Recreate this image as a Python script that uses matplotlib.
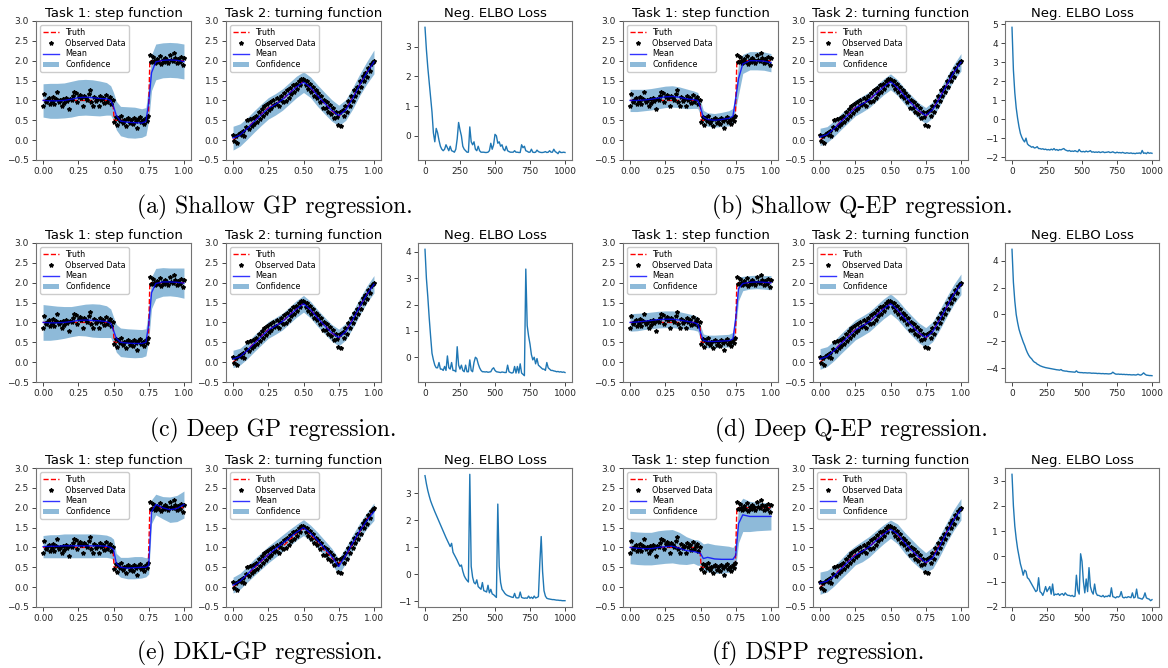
import numpy as np
import matplotlib.pyplot as plt

# ---------------- data ----------------
# observed points (same for every method), x = 100 points on [0, 1]
obs_x = np.linspace(0, 1, 100)
step_obs = [0.87, 1.15, 0.97, 1.02, 1.05, 0.92, 0.98, 1.08, 0.90, 1.03,
            1.22, 0.95, 1.00, 0.85, 1.04, 0.93, 1.06, 0.99, 0.78, 1.03,
            1.00, 1.12, 1.20, 1.18, 0.96, 1.08, 1.14, 1.05, 0.87, 1.10,
            1.06, 1.02, 1.15, 1.27, 0.97, 0.85, 1.08, 0.99, 1.04, 0.86,
            1.11, 1.00, 1.06, 0.93, 1.13, 0.97, 1.04, 1.08, 0.92, 1.02,
            0.45, 0.58, 0.38, 0.55, 0.47, 0.60, 0.42, 0.50, 0.36, 0.53,
            0.57, 0.44, 0.50, 0.40, 0.55, 0.48, 0.31, 0.52, 0.58, 0.45,
            0.50, 0.40, 0.55, 0.47, 0.60,
            2.15, 1.97, 2.10, 2.00, 1.95, 2.05, 1.98, 2.12, 1.92, 2.03,
            1.96, 2.08, 2.01, 1.94, 2.15, 2.02, 1.99, 2.20, 2.06, 1.93,
            2.04, 1.98, 2.10, 1.90, 2.08]
turn_obs = [0.13, -0.03, 0.10, -0.07, 0.15, 0.17, 0.12, 0.22, 0.10, 0.33,
            0.50, 0.28, 0.52, 0.35, 0.55, 0.40, 0.62, 0.45, 0.70, 0.52,
            0.78, 0.60, 0.85, 0.68, 0.90, 0.75, 0.95, 0.80, 1.00, 0.88,
            0.90, 1.05, 0.85, 1.00, 1.12, 0.95, 1.18, 0.98, 1.25, 1.05,
            1.32, 1.15, 1.38, 1.20, 1.42, 1.30, 1.50, 1.38, 1.53, 1.55,
            1.52, 1.40, 1.50, 1.30, 1.42, 1.20, 1.35, 1.10, 1.25, 1.05,
            1.18, 0.95, 1.10, 0.82, 1.02, 0.80, 0.95, 0.70, 0.88, 0.65,
            0.80, 0.55, 0.70, 0.58, 0.38, 0.72, 0.35, 0.75, 0.62, 0.85,
            0.70, 0.98, 0.85, 1.12, 0.98, 1.25, 1.10, 1.35, 1.22, 1.50,
            1.35, 1.62, 1.48, 1.70, 1.60, 1.82, 1.75, 1.92, 1.98, 1.99]

# ground truth
step_true_x = [0, 0.495, 0.505, 0.747, 0.758, 1.0]
step_true_y = [1.0, 1.0, 0.5, 0.5, 2.0, 2.0]
turn_grid = np.linspace(0, 1, 21)
turn_true = [0.00, 0.12, 0.30, 0.48, 0.65, 0.82, 0.92, 1.02, 1.18, 1.35, 1.48,
             1.32, 1.10, 0.92, 0.74, 0.60, 0.78, 1.08, 1.40, 1.72, 1.98]

# predictive mean and half-width of the confidence band
step_grid = [0, .05, .1, .15, .2, .25, .3, .35, .4, .45, .48, .5, .52, .55,
             .6, .65, .7, .73, .75, .77, .8, .85, .9, .95, 1.0]

step_mean_a = [1.00, 0.99, 0.99, 1.00, 1.03, 1.07, 1.08, 1.07, 1.05, 1.04, 1.00, 0.85, 0.62,
               0.48, 0.45, 0.44, 0.43, 0.47, 0.95, 1.70, 1.97, 2.01, 2.02, 2.01, 1.98]
step_half_a = [0.42, 0.44, 0.44, 0.44, 0.45, 0.45, 0.45, 0.45, 0.44, 0.41, 0.37, 0.35, 0.36,
               0.37, 0.39, 0.39, 0.36, 0.35, 0.45, 0.45, 0.45, 0.44, 0.44, 0.44, 0.44]
step_mean_b = [1.00, 1.00, 1.01, 1.03, 1.06, 1.09, 1.10, 1.08, 1.04, 1.02, 1.00, 0.82, 0.58,
               0.52, 0.50, 0.52, 0.55, 0.60, 1.05, 1.55, 1.92, 2.00, 2.00, 1.99, 1.95]
step_half_b = [0.28, 0.28, 0.27, 0.27, 0.27, 0.27, 0.27, 0.26, 0.25, 0.22, 0.20, 0.18, 0.17,
               0.17, 0.17, 0.18, 0.19, 0.20, 0.25, 0.40, 0.24, 0.23, 0.23, 0.23, 0.23]
step_mean_c = [1.00, 0.99, 0.99, 1.00, 1.02, 1.05, 1.06, 1.05, 1.04, 1.02, 0.98, 0.80, 0.60,
               0.50, 0.48, 0.47, 0.47, 0.50, 0.95, 1.75, 1.98, 2.02, 2.02, 2.01, 1.99]
step_half_c = [0.45, 0.44, 0.42, 0.40, 0.38, 0.38, 0.40, 0.42, 0.42, 0.40, 0.36, 0.34, 0.35,
               0.36, 0.36, 0.36, 0.35, 0.34, 0.40, 0.40, 0.38, 0.36, 0.35, 0.36, 0.38]
step_mean_d = [1.00, 1.01, 1.03, 1.05, 1.07, 1.08, 1.08, 1.06, 1.03, 1.00, 0.96, 0.75, 0.55,
               0.52, 0.52, 0.53, 0.54, 0.58, 1.10, 1.85, 1.98, 2.01, 2.02, 2.01, 2.00]
step_half_d = [0.22, 0.22, 0.21, 0.21, 0.21, 0.21, 0.21, 0.21, 0.20, 0.19, 0.18, 0.17, 0.16,
               0.16, 0.16, 0.16, 0.16, 0.17, 0.25, 0.30, 0.18, 0.17, 0.17, 0.17, 0.18]
step_mean_e = [1.02, 1.03, 1.03, 1.04, 1.04, 1.04, 1.04, 1.04, 1.04, 1.03, 1.00, 0.95, 0.60,
               0.50, 0.48, 0.49, 0.50, 0.50, 0.55, 1.90, 2.08, 2.00, 1.95, 1.98, 2.08]
step_half_e = [0.28, 0.29, 0.29, 0.30, 0.30, 0.30, 0.30, 0.30, 0.29, 0.28, 0.27, 0.26, 0.25,
               0.25, 0.27, 0.28, 0.27, 0.24, 0.22, 0.30, 0.26, 0.28, 0.32, 0.33, 0.34]
step_mean_f = [1.00, 0.98, 0.97, 0.97, 1.00, 1.02, 1.03, 0.98, 0.92, 0.90, 0.87, 0.85, 0.72,
               0.75, 0.71, 0.70, 0.70, 0.70, 0.80, 1.60, 1.82, 1.78, 1.78, 1.78, 1.78]
step_half_f = [0.41, 0.41, 0.41, 0.41, 0.42, 0.42, 0.42, 0.40, 0.35, 0.30, 0.32, 0.30, 0.37,
               0.36, 0.36, 0.35, 0.33, 0.30, 0.30, 0.48, 0.42, 0.38, 0.36, 0.35, 0.34]

turn_mean_a = [0.05, 0.13, 0.29, 0.47, 0.64, 0.80, 0.90, 1.02, 1.18, 1.34, 1.46,
               1.33, 1.12, 0.93, 0.75, 0.62, 0.76, 1.06, 1.40, 1.70, 1.97]
turn_half_a = [0.30, 0.28, 0.27, 0.27, 0.27, 0.27, 0.27, 0.27, 0.27, 0.27, 0.26,
               0.26, 0.27, 0.27, 0.27, 0.26, 0.26, 0.27, 0.27, 0.28, 0.30]
turn_mean_b = [0.08, 0.14, 0.29, 0.47, 0.64, 0.81, 0.91, 1.02, 1.18, 1.34, 1.47,
               1.32, 1.11, 0.92, 0.74, 0.62, 0.77, 1.07, 1.40, 1.71, 1.96]
turn_half_b = [0.22, 0.20, 0.20, 0.20, 0.20, 0.20, 0.20, 0.20, 0.20, 0.20, 0.20,
               0.20, 0.20, 0.20, 0.20, 0.20, 0.20, 0.20, 0.20, 0.20, 0.22]
turn_mean_c = [0.08, 0.14, 0.29, 0.47, 0.64, 0.81, 0.91, 1.02, 1.18, 1.34, 1.47,
               1.32, 1.11, 0.92, 0.74, 0.62, 0.77, 1.07, 1.40, 1.71, 1.96]
turn_half_c = [0.22, 0.21, 0.21, 0.21, 0.21, 0.21, 0.21, 0.21, 0.21, 0.21, 0.21,
               0.21, 0.21, 0.21, 0.21, 0.21, 0.21, 0.21, 0.21, 0.21, 0.22]
turn_mean_d = [0.08, 0.14, 0.29, 0.47, 0.64, 0.81, 0.91, 1.02, 1.18, 1.34, 1.47,
               1.32, 1.11, 0.92, 0.74, 0.62, 0.77, 1.07, 1.40, 1.71, 1.96]
turn_half_d = [0.26, 0.25, 0.25, 0.25, 0.25, 0.25, 0.25, 0.25, 0.25, 0.25, 0.25,
               0.25, 0.25, 0.25, 0.25, 0.25, 0.25, 0.25, 0.25, 0.25, 0.26]
turn_mean_e = [0.05, 0.15, 0.32, 0.50, 0.66, 0.82, 0.96, 1.10, 1.24, 1.38, 1.50,
               1.36, 1.18, 0.98, 0.78, 0.52, 0.80, 1.12, 1.42, 1.68, 1.90]
turn_half_e = [0.20, 0.20, 0.20, 0.21, 0.21, 0.21, 0.21, 0.21, 0.21, 0.20, 0.20,
               0.20, 0.20, 0.20, 0.20, 0.20, 0.20, 0.20, 0.20, 0.20, 0.22]
turn_mean_f = [0.10, 0.15, 0.28, 0.46, 0.64, 0.80, 0.90, 1.02, 1.18, 1.33, 1.46,
               1.34, 1.12, 0.93, 0.76, 0.62, 0.74, 1.04, 1.38, 1.70, 1.96]
turn_half_f = [0.28, 0.27, 0.25, 0.25, 0.26, 0.24, 0.26, 0.26, 0.25, 0.24, 0.23,
               0.25, 0.26, 0.27, 0.26, 0.25, 0.27, 0.26, 0.25, 0.26, 0.27]

# negative ELBO, sampled every 10 iterations
iters = np.arange(0, 1001, 10)
loss_a = [3.65, 2.90, 2.30, 1.80, 1.30, 0.80, 0.10, -0.20, 0.25, 0.10,
          -0.15, -0.35, -0.45, -0.50, -0.45, -0.30, -0.40, -0.50, -0.35, -0.50,
          -0.52, -0.55, -0.45, -0.10, 0.45, 0.20, 0.00, -0.35, -0.45, -0.50,
          -0.55, -0.55, 0.30, -0.20, -0.30, -0.20, -0.45, -0.50, -0.35, -0.50,
          -0.55, -0.55, -0.55, -0.56, -0.56, -0.55, -0.50, -0.25, -0.45, -0.30,
          0.05, 0.00, -0.25, -0.20, -0.35, -0.30, -0.45, -0.50, -0.35, -0.50,
          -0.53, -0.55, -0.55, -0.55, -0.50, -0.55, -0.55, -0.56, -0.56, -0.30,
          -0.40, -0.35, -0.50, -0.52, -0.55, -0.55, -0.45, -0.55, -0.56, -0.55,
          -0.48, -0.53, -0.55, -0.56, -0.56, -0.55, -0.53, -0.56, -0.55, -0.50,
          -0.55, -0.55, -0.45, -0.53, -0.56, -0.60, -0.52, -0.56, -0.56, -0.55,
          -0.56]
loss_b = [4.85, 2.60, 1.40, 0.60, 0.05, -0.40, -0.75, -0.95, -1.10, -1.20,
          -1.00, -1.30, -1.38, -1.42, -1.48, -1.45, -1.52, -1.50, -1.45, -1.55,
          -1.55, -1.58, -1.56, -1.60, -1.58, -1.62, -1.60, -1.63, -1.58, -1.62,
          -1.55, -1.63, -1.60, -1.65, -1.60, -1.62, -1.58, -1.55, -1.62, -1.65,
          -1.68, -1.65, -1.70, -1.68, -1.70, -1.66, -1.70, -1.72, -1.60, -1.70,
          -1.72, -1.70, -1.73, -1.68, -1.72, -1.70, -1.66, -1.74, -1.72, -1.75,
          -1.73, -1.75, -1.72, -1.76, -1.74, -1.72, -1.76, -1.75, -1.74, -1.72,
          -1.76, -1.75, -1.72, -1.76, -1.78, -1.74, -1.77, -1.76, -1.78, -1.75,
          -1.78, -1.80, -1.77, -1.79, -1.80, -1.78, -1.81, -1.80, -1.82, -1.79,
          -1.80, -1.78, -1.82, -1.65, -1.80, -1.78, -1.82, -1.75, -1.80, -1.78,
          -1.80]
loss_c = [4.10, 3.00, 2.30, 1.50, 0.80, 0.15, -0.10, -0.30, -0.40, -0.40,
          -0.20, -0.45, -0.45, -0.50, -0.35, -0.50, 0.05, -0.40, -0.45, -0.20,
          -0.50, -0.50, -0.55, 0.40, -0.30, -0.45, -0.30, -0.50, -0.55, -0.30,
          -0.55, -0.55, -0.10, -0.50, -0.55, -0.20, 0.00, -0.05, -0.25, -0.40,
          -0.50, -0.55, -0.55, -0.56, -0.55, -0.57, -0.56, -0.55, -0.45, -0.40,
          -0.50, -0.55, -0.56, -0.57, -0.58, -0.56, -0.57, -0.58, -0.58, -0.30,
          -0.55, -0.58, -0.60, -0.58, -0.35, -0.60, -0.35, -0.60, -0.25, -0.60,
          -0.65, -0.70, 3.35, 1.20, 0.80, 0.50, 0.10, -0.10, 0.00, -0.25,
          -0.05, -0.30, -0.35, -0.40, -0.45, -0.45, -0.50, -0.20, -0.40, -0.45,
          -0.50, -0.50, -0.52, -0.53, -0.55, -0.54, -0.56, -0.55, -0.57, -0.56,
          -0.58]
loss_d = [4.85, 2.40, 1.00, 0.00, -0.60, -1.10, -1.45, -1.75, -2.05, -2.30,
          -2.60, -2.85, -3.05, -3.20, -3.30, -3.45, -3.55, -3.60, -3.70, -3.75,
          -3.82, -3.86, -3.90, -3.93, -3.96, -3.98, -4.00, -4.02, -4.04, -4.06,
          -4.08, -4.10, -4.12, -4.13, -4.15, -4.10, -4.18, -4.20, -4.22, -4.22,
          -4.25, -4.26, -4.27, -4.28, -4.29, -4.30, -4.20, -4.30, -4.32, -4.33,
          -4.33, -4.35, -4.34, -4.35, -4.36, -4.35, -4.36, -4.38, -4.37, -4.38,
          -4.38, -4.40, -4.39, -4.40, -4.41, -4.40, -4.42, -4.41, -4.42, -4.43,
          -4.42, -4.40, -4.30, -4.38, -4.44, -4.45, -4.44, -4.46, -4.45, -4.47,
          -4.46, -4.48, -4.47, -4.49, -4.48, -4.50, -4.50, -4.49, -4.51, -4.50,
          -4.45, -4.50, -4.52, -4.45, -4.35, -4.45, -4.52, -4.53, -4.55, -4.55,
          -4.56]
loss_e = [3.65, 3.35, 3.10, 2.90, 2.72, 2.58, 2.45, 2.32, 2.20, 2.08,
          1.96, 1.84, 1.72, 1.60, 1.48, 1.36, 1.25, 1.14, 1.03, 1.15,
          0.82, 0.72, 0.62, 0.52, 0.40, 0.30, 0.35, 0.12, -0.05, -0.15,
          -0.22, -0.28, 3.70, 0.30, -0.10, -0.30, -0.35, -0.20, -0.45, -0.50,
          -0.55, -0.30, -0.60, -0.62, -0.65, -0.40, -0.68, -0.55, -0.72, -0.75,
          -0.80, -0.85, 2.60, 0.30, -0.30, -0.55, -0.62, -0.70, -0.75, -0.78,
          -0.80, -0.82, -0.84, -0.85, -0.70, -0.86, -0.87, -0.86, -0.65, -0.85,
          -0.87, -0.88, -0.87, -0.88, -0.80, -0.88, -0.84, -0.89, -0.80, -0.87,
          -0.85, -0.82, 0.40, 1.40, 0.10, -0.60, -0.80, -0.88, -0.90, -0.91,
          -0.92, -0.93, -0.93, -0.94, -0.95, -0.95, -0.96, -0.96, -0.97, -0.97,
          -0.97]
loss_f = [3.25, 2.00, 1.20, 0.70, 0.30, 0.00, -0.30, -0.50, -0.75, -0.55,
          -0.60, -0.85, -0.90, -1.00, -1.10, -1.20, -1.30, -1.40, -1.35, -0.85,
          -1.40, -1.45, -1.55, -1.40, -1.20, -1.40, -1.30, -1.20, -1.50, -1.10,
          -1.55, -1.50, -1.52, -1.48, -1.55, -1.50, -1.48, -1.55, -1.45, -1.52,
          -1.55, -1.55, -1.58, -1.55, -1.60, -1.58, -0.75, -1.35, -1.50, 0.10,
          -0.20, -1.00, -1.45, -0.90, -1.40, -0.45, -1.20, -1.40, -1.50, -1.10,
          -1.45, -1.55, -1.55, -1.58, -1.60, -1.55, -1.62, -1.58, -1.60, -1.55,
          -1.60, -1.25, -1.60, -1.62, -1.65, -1.60, -1.62, -1.58, -1.40, -1.62,
          -1.65, -1.62, -1.64, -1.60, -1.62, -1.64, -1.45, -1.65, -1.62, -1.30,
          -1.65, -1.66, -1.68, -1.70, -1.62, -1.45, -1.65, -1.68, -1.70, -1.76,
          -1.72]

# y tick labels of the loss plots
loss_yticks = [[0, 1, 2, 3], [-2, -1, 0, 1, 2, 3, 4, 5], [0, 1, 2, 3, 4],
               [-4, -2, 0, 2, 4], [-1, 0, 1, 2, 3], [-2, -1, 0, 1, 2, 3]]

captions = ["(a) Shallow GP regression.", "(b) Shallow Q-EP regression.",
            "(c) Deep GP regression.", "(d) Deep Q-EP regression.",
            "(e) DKL-GP regression.", "(f) DSPP regression."]

panels = [
    (step_mean_a, step_half_a, turn_mean_a, turn_half_a, loss_a),
    (step_mean_b, step_half_b, turn_mean_b, turn_half_b, loss_b),
    (step_mean_c, step_half_c, turn_mean_c, turn_half_c, loss_c),
    (step_mean_d, step_half_d, turn_mean_d, turn_half_d, loss_d),
    (step_mean_e, step_half_e, turn_mean_e, turn_half_e, loss_e),
    (step_mean_f, step_half_f, turn_mean_f, turn_half_f, loss_f),
]

# ---------------- layout (pixels) ----------------
W, H = 1168, 668
fig = plt.figure(figsize=(W / 100, H / 100), dpi=100)

row_tops = [21, 243, 468]
col_offsets = [0, 587]
caption_left = [137, 712, 150, 715, 137, 712]
caption_y = [207, 430, 653]


def px_axes(left, top, w, h):
    return fig.add_axes([left / W, 1 - (top + h) / H, w / W, h / H])


def style(ax):
    ax.tick_params(labelsize=6.5, length=3, width=0.6, pad=2, colors='0.15')
    for s in ax.spines.values():
        s.set_linewidth(0.8)
        s.set_color('0.45')


def regression(ax, title, true_x, true_y, grid, mean, half, obs):
    mean = np.array(mean)
    half = np.array(half)
    ax.plot(true_x, true_y, 'r--', lw=1, label='Truth')
    ax.plot(obs_x, obs, 'k*', ms=3.0, label='Observed Data')
    ax.plot(grid, mean, 'b', lw=1, alpha=0.8, label='Mean')
    ax.fill_between(grid, mean - half, mean + half, color='C0', alpha=0.5,
                    lw=0, label='Confidence')
    ax.set_ylim(-0.5, 3.0)
    ax.set_yticks(np.arange(-0.5, 3.01, 0.5))
    ax.set_xticks([0, 0.25, 0.5, 0.75, 1.0])
    ax.set_title(title, fontsize=9.5, pad=3)
    ax.legend(loc='upper left', fontsize=5.8, handlelength=2.0,
              borderpad=0.35, labelspacing=0.22, handletextpad=0.8,
              framealpha=1, edgecolor='0.8', fancybox=True)
    style(ax)


for i, (sm, sh, tm, th, loss) in enumerate(panels):
    top = row_tops[i // 2]
    ox = col_offsets[i % 2]

    ax1 = px_axes(36 + ox, top, 155, 139)
    regression(ax1, 'Task 1: step function', step_true_x, step_true_y,
               step_grid, sm, sh, step_obs)

    ax2 = px_axes(226 + ox, top, 155, 139)
    regression(ax2, 'Task 2: turning function', turn_grid, turn_true,
               turn_grid, tm, th, turn_obs)

    ax3 = px_axes(418 + ox, top, 154, 139)
    ax3.plot(iters, loss, color='C0', lw=1)
    ax3.set_xticks([0, 250, 500, 750, 1000])
    ax3.set_yticks(loss_yticks[i])
    ax3.set_title('Neg. ELBO Loss', fontsize=9.5, pad=3)
    style(ax3)

    fig.text(caption_left[i] / W, 1 - caption_y[i // 2] / H, captions[i],
             family=['cmr10', 'DejaVu Serif'], fontsize=17,
             ha='left', va='center')

fig.savefig('out.png', dpi=100)
